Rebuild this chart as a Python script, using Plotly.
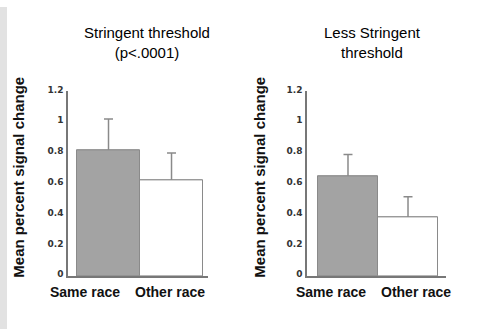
import plotly.graph_objects as go

# Data
categories = ["Same race", "Other race"]
panel_titles = ["Stringent threshold<br>(p<.0001)", "Less Stringent<br>threshold"]
stringent_means = [0.82, 0.62]
stringent_errors = [0.20, 0.18]
less_stringent_means = [0.65, 0.38]
less_stringent_errors = [0.14, 0.135]
y_ticks = [0, 0.2, 0.4, 0.6, 0.8, 1, 1.2]
y_title = "Mean percent signal change"

W, H = 482, 332
bar_fills = ["#a3a3a3", "#ffffff"]
edge = "#8a8a8a"
axis_col = "#777777"
text_col = "#000000"
tick_font = dict(family="DejaVu Sans, Verdana", size=9, color="#333333", weight="bold")
title_font = dict(family="Liberation Sans, Arial", size=15, color=text_col)
label_font = dict(family="Liberation Sans, Arial", size=14, color="#111111", weight="bold")


def px_x(p):
    return p / W


def px_y(p):
    return (H - p) / H


fig = go.Figure()

panels = [
    dict(means=stringent_means, errs=stringent_errors, xa="x", ya="y",
         dom=(68, 208), rng=[-0.643, 1.579], label_off=[-0.373, -0.024],
         title_x=147, ytitle_x=19),
    dict(means=less_stringent_means, errs=less_stringent_errors, xa="x2", ya="y2",
         dom=(307, 446), rng=[-0.683, 1.633], label_off=[-0.283, 0.133],
         title_x=372, ytitle_x=260),
]

y_dom = [px_y(277.5), px_y(87)]

for i, p in enumerate(panels):
    xs = list(range(len(categories)))
    # error whiskers (lower half is hidden by the bars drawn over them)
    fig.add_trace(go.Bar(
        x=xs, y=p["means"], width=1,
        marker=dict(color=bar_fills, line=dict(color=edge, width=1)),
        error_y=dict(type="data", array=p["errs"], color=edge,
                     thickness=1.5, width=4.5),
        xaxis=p["xa"], yaxis=p["ya"], showlegend=False, hoverinfo="skip",
    ))
    fig.add_trace(go.Bar(
        x=xs, y=p["means"], width=1,
        marker=dict(color=bar_fills, line=dict(color=edge, width=1)),
        xaxis=p["xa"], yaxis=p["ya"], showlegend=False, hoverinfo="skip",
    ))
    sfx = "" if i == 0 else "2"
    fig.layout["xaxis" + sfx] = dict(
        domain=[px_x(p["dom"][0]), px_x(p["dom"][1])], range=p["rng"],
        showline=True, linecolor=axis_col, linewidth=1.5, showgrid=False,
        zeroline=False, showticklabels=False, ticks="", anchor="y" + sfx,
        fixedrange=True,
    )
    fig.layout["yaxis" + sfx] = dict(
        domain=y_dom, range=[0, 1.2], tickvals=y_ticks,
        ticktext=[f"{v:g}" for v in y_ticks],
        showline=True, linecolor=axis_col, linewidth=1.5, showgrid=False,
        zeroline=False, ticks="", tickfont=tick_font, ticklabelshift=-2,
        ticklabelstandoff=1, anchor="x" + sfx, fixedrange=True,
    )
    # category labels under the bars
    for j, cat in enumerate(categories):
        fig.add_annotation(
            x=j + p["label_off"][j], y=px_y(294), xref=p["xa"], yref="paper",
            text=cat, showarrow=False, font=label_font,
            xanchor="center", yanchor="middle",
        )
    # panel title
    fig.add_annotation(
        x=px_x(p["title_x"]), y=px_y(37), xref="paper", yref="paper",
        text=panel_titles[i], showarrow=False, font=title_font,
        xanchor="center", yanchor="middle",
    )
    # rotated y-axis title
    fig.add_annotation(
        x=px_x(p["ytitle_x"]), y=px_y(176), xref="paper", yref="paper",
        text=y_title, textangle=-90, showarrow=False,
        font=dict(family="Liberation Sans, Arial", size=15, color="#111111",
                  weight="bold"),
        xanchor="center", yanchor="middle",
    )

# thin grey strip along the left edge of the page
fig.add_shape(type="rect", xref="paper", yref="paper",
              x0=0, x1=px_x(7), y0=0, y1=1,
              fillcolor="#e2e2e2", line_width=0, layer="below")

fig.update_layout(
    width=W, height=H, margin=dict(l=0, r=0, t=0, b=0),
    paper_bgcolor="white", plot_bgcolor="white", bargap=0, barmode="overlay",
)

fig.write_html("out.html", config={"displayModeBar": False})
